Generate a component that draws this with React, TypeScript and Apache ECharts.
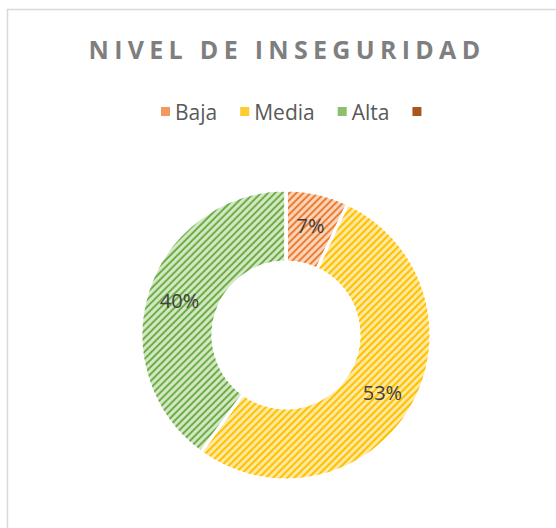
import React, { useEffect, useRef } from "react";
import * as echarts from "echarts";

const titleText = "NIVEL DE INSEGURIDAD";
const categories = ["Baja", "Media", "Alta", " "];
const values = [7, 53, 40, 0];
const stripeColors = ["#ed7d31", "#ffc000", "#70ad47", "#9e480e"];
const baseColors = ["#fad4bb", "#ffe8a0", "#d2e8c4", "#c86a2a"];
const legendColors = ["#f09a60", "#ffcb2e", "#8cc06a", "#a9561f"];

export default function App() {
  const ref = useRef<HTMLDivElement>(null);
  useEffect(() => {
    if (!ref.current) return;
    const chart = echarts.init(ref.current, null, { renderer: "svg" });
    const data = categories.map((name, i) => ({
      name,
      value: values[i],
      itemStyle: {
        color: baseColors[i],
        decal: {
          symbol: "rect",
          symbolSize: 1,
          dashArrayX: [1, 0],
          dashArrayY: [1.8, 2.4],
          rotation: -Math.PI / 4,
          color: stripeColors[i],
        },
      },
      label: i === 3 ? { show: false } : undefined,
    }));
    chart.setOption({
      animation: false,
      aria: { enabled: true, decal: { show: true } },
      title: {
        text: titleText,
        left: 282,
        top: 31,
        textAlign: "center",
        textStyle: {
          fontFamily: "Open Sans",
          fontWeight: "bold",
          fontSize: 25,
          color: "#7f7f7f",
        },
      },
      legend: {
        data: categories.map((name, i) => ({
          name,
          itemStyle: { color: legendColors[i], borderWidth: 0, decal: "none" },
        })),
        itemStyle: { decal: "none", borderWidth: 0 },
        top: 96,
        left: 156,
        itemWidth: 9,
        itemHeight: 9,
        itemGap: 23,
        icon: "rect",
        textStyle: {
          fontFamily: "Open Sans",
          fontSize: 21,
          color: "#595959",
        },
      },
      graphic: [
        {
          type: "rect",
          shape: { x: 7.5, y: 9.5, width: 700, height: 700 },
          style: { fill: "none", stroke: "#d9d9d9", lineWidth: 1.5 },
          silent: true,
        },
      ],
      series: [
        {
          type: "pie",
          center: [286, 335],
          radius: [73, 145],
          startAngle: 90,
          clockwise: true,
          avoidLabelOverlap: false,
          percentPrecision: 0,
          itemStyle: { borderColor: "#ffffff", borderWidth: 3 },
          label: {
            show: true,
            position: "inner",
            formatter: "{d}%",
            fontFamily: "Open Sans",
            fontSize: 20,
            color: "#404040",
          },
          labelLine: { show: false },
          emphasis: { disabled: true },
          data,
        },
      ],
    });
    const applySpacing = () => {
      const el = ref.current;
      if (!el) return;
      el.querySelectorAll("text").forEach((t) => {
        if (t.textContent === titleText) {
          t.setAttribute("letter-spacing", "5.3");
        }
      });
    };
    applySpacing();
    chart.on("finished", applySpacing);
    const timer = setTimeout(applySpacing, 50);
    return () => {
      clearTimeout(timer);
      chart.dispose();
    };
  }, []);
  return (
    <div
      ref={ref}
      style={{ position: "fixed", left: 0, top: 0, width: 556, height: 528, background: "#fff" }}
    />
  );
}
